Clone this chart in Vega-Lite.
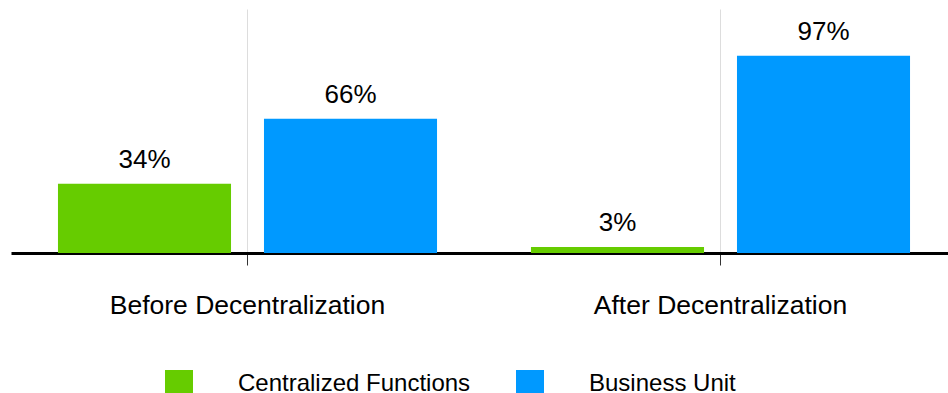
{
  "$schema": "https://vega.github.io/schema/vega-lite/v6.json",
  "autosize": {"type": "none"},
  "width": 937,
  "height": 244,
  "padding": {"left": 11, "top": 9, "right": 0, "bottom": 140},
  "config": {
    "view": {"stroke": null},
    "font": "Liberation Sans"
  },
  "data": {
    "values": [
      {"stage": "Before Decentralization", "series": "Centralized Functions", "share": 0.34},
      {"stage": "Before Decentralization", "series": "Business Unit", "share": 0.66},
      {"stage": "After Decentralization", "series": "Centralized Functions", "share": 0.03},
      {"stage": "After Decentralization", "series": "Business Unit", "share": 0.97}
    ]
  },
  "encoding": {
    "x": {
      "field": "stage",
      "type": "nominal",
      "sort": ["Before Decentralization", "After Decentralization"],
      "scale": {"range": [0, 946], "paddingInner": 0, "paddingOuter": 0},
      "axis": {
        "title": null,
        "labelAngle": 0,
        "labelFont": "Liberation Sans",
        "labelFontSize": 26.5,
        "labelColor": "#000000",
        "labelBaseline": "alphabetic",
        "labelPadding": 48,
        "labelLimit": 0,
        "tickSize": 12,
        "tickColor": "#333333",
        "tickWidth": 1,
        "bandPosition": 0.5,
        "domainColor": "#000000",
        "domainWidth": 3,
        "grid": true,
        "gridColor": "#dddddd",
        "gridWidth": 1
      }
    },
    "xOffset": {
      "field": "series",
      "type": "nominal",
      "sort": ["Centralized Functions", "Business Unit"],
      "scale": {"paddingInner": 0.16, "paddingOuter": 0.228}
    },
    "y": {
      "field": "share",
      "type": "quantitative",
      "scale": {"domain": [0, 1.2], "nice": false},
      "axis": null
    }
  },
  "layer": [
    {
      "mark": {"type": "bar"},
      "encoding": {
        "color": {
          "field": "series",
          "type": "nominal",
          "sort": ["Centralized Functions", "Business Unit"],
          "scale": {"domain": ["Centralized Functions", "Business Unit"], "range": ["#66CC00", "#0099FF"]},
          "legend": {
            "title": null,
            "orient": "none",
            "direction": "horizontal",
            "legendX": 154,
            "legendY": 361,
            "padding": 0,
            "symbolType": "square",
            "symbolSize": 784,
            "symbolStrokeWidth": 0,
            "symbolOpacity": 1,
            "labelFont": "Liberation Sans",
            "labelFontSize": 24,
            "labelColor": "#000000",
            "labelOffset": 45,
            "labelLimit": 500,
            "columnPadding": 45
          }
        }
      }
    },
    {
      "mark": {"type": "text", "baseline": "alphabetic", "dy": -16, "fontSize": 26, "font": "Liberation Sans", "color": "#000000"},
      "encoding": {
        "text": {"field": "share", "type": "quantitative", "format": ".0%"}
      }
    }
  ]
}
